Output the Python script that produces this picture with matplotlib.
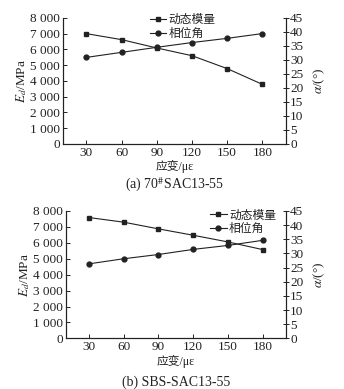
import matplotlib.pyplot as plt
from matplotlib.ticker import FuncFormatter

plt.rcParams['font.family'] = ['Liberation Serif', 'Noto Sans CJK SC']
plt.rcParams['mathtext.fontset'] = 'stix'

# 数据
strain = [30, 60, 90, 120, 150, 180]
mod_a = [7000, 6620, 6090, 5600, 4780, 3780]
phase_a = [30.9, 32.7, 34.5, 36.2, 37.7, 39.4]
mod_b = [7580, 7290, 6870, 6470, 6050, 5570]
phase_b = [26.3, 28.1, 29.6, 31.4, 32.8, 34.6]
labels = ['动态模量', '相位角']
captions = ['(a) 70$^{\\#}$SAC13-55', '(b) SBS-SAC13-55']

fig = plt.figure(figsize=(3.44, 3.89), dpi=100)
ax_pos = [[0.183, 0.630, 0.648, 0.324], [0.191, 0.130, 0.640, 0.328]]
legend_loc = [(0.39, 1.03), (0.656, 1.01)]
cap_y = [-0.25, -0.29]
col = '#222222'


def thousands(v, p):
    return f'{int(v):,}'.replace(',', ' ')


for k, (mod, phase) in enumerate([(mod_a, phase_a), (mod_b, phase_b)]):
    ax = fig.add_axes(ax_pos[k])
    ax2 = ax.twinx()
    l1, = ax.plot(strain, mod, '-s', color=col, lw=0.8, ms=3)
    l2, = ax2.plot(strain, phase, '-o', color=col, lw=0.8, ms=3.5)

    ax.set_xlim(10, 200)
    ax.set_ylim(0, 8000)
    ax.set_yticks(range(0, 8001, 1000))
    ax.yaxis.set_major_formatter(FuncFormatter(thousands))
    ax.set_xticks(strain)
    ax2.set_ylim(0, 45)
    ax2.set_yticks(range(0, 46, 5))

    for a in (ax, ax2):
        a.spines['top'].set_visible(False)
        for s in a.spines.values():
            s.set_linewidth(0.8)
            s.set_color(col)
    ax.tick_params(axis='both', direction='in', length=3, width=0.7,
                   labelsize=9.5, pad=2, colors=col)
    ax2.tick_params(axis='y', direction='inout', length=4, width=0.7,
                    labelsize=9.5, pad=1, colors=col)

    ax.set_ylabel('$E_d$/MPa', fontsize=9.5, labelpad=1, color=col)
    ax2.set_ylabel('$\\alpha$/(°)', fontsize=9.5, labelpad=6, color=col)
    ax.set_xlabel('应变/με', fontsize=8.5, labelpad=1, color=col)

    ax.legend([l1, l2], labels, loc='upper left', bbox_to_anchor=legend_loc[k],
              frameon=False, fontsize=8.5, handlelength=1.4, handletextpad=0.2,
              labelspacing=0.15, borderpad=0, borderaxespad=0, labelcolor=col)

    ax.text(0.5, cap_y[k], captions[k], transform=ax.transAxes, ha='center',
            va='top', fontsize=10, color=col)

plt.savefig('out.png', dpi=100)
